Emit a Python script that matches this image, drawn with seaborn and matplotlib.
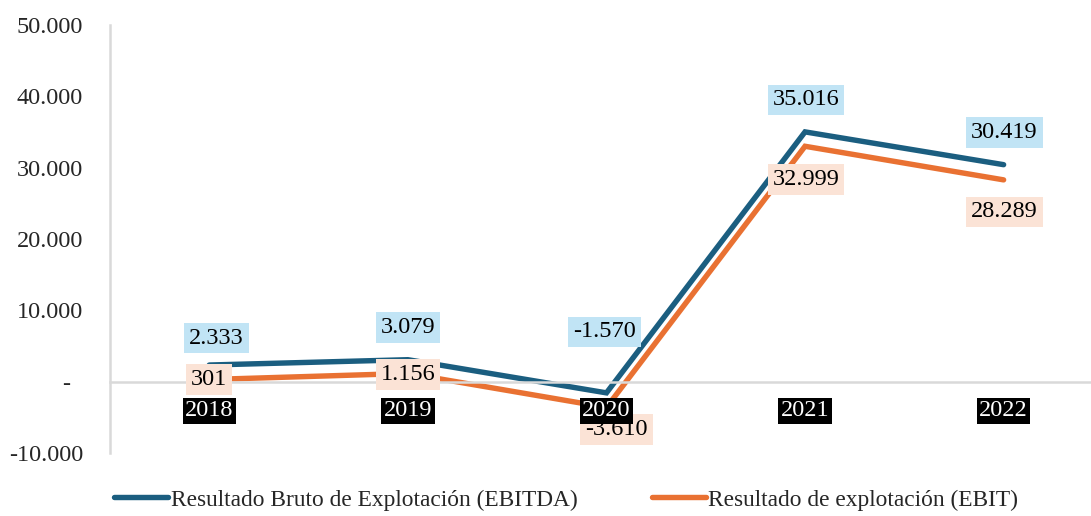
import pandas as pd
import seaborn as sns
import matplotlib.pyplot as plt


YEARS = ['2018', '2019', '2020', '2021', '2022']
EBITDA = [2333, 3079, -1570, 35016, 30419]
EBIT = [301, 1156, -3610, 32999, 28289]

EBITDA_NAME = 'Resultado Bruto de Explotación (EBITDA)'
EBIT_NAME = 'Resultado de explotación (EBIT)'

# label offsets in pixels (dx, dy) relative to each point
EBITDA_OFFS = [(7, 27), (0, 32), (-2, 61), (1, 32), (1, 32)]
EBIT_OFFS = [(0, 0), (0, -1), (10, -22), (1, -33), (1, -32)]

BLUE = '#1b5e80'
ORANGE = '#e97132'
BLUE_BOX = '#c1e4f5'
ORANGE_BOX = '#fbe3d6'
GRID_GRAY = '#d9d9d9'
FSIZE = 17.5


def fmt_num(val):
    return '{:,.0f}'.format(val).replace(',', '.')


def main():
    sns.set_theme(style='white')
    plt.rcParams['font.family'] = ['Liberation Serif', 'DejaVu Serif']
    plt.rcParams['font.size'] = FSIZE

    df = pd.DataFrame({
        'year': YEARS * 2,
        'value': EBITDA + EBIT,
        'serie': [EBITDA_NAME] * len(YEARS) + [EBIT_NAME] * len(YEARS)})

    fig = plt.figure(figsize=(10.91, 5.16), dpi=100)
    ax = fig.add_axes([110 / 1091, 1 - 453 / 516, 1 - 110 / 1091,
                       (453 - 25) / 516])
    sns.lineplot(data=df, x='year', y='value', hue='serie', sort=False,
                 palette=[BLUE, ORANGE], linewidth=3.9, ax=ax, legend=False)
    for line in ax.get_lines():
        line.set_solid_capstyle('round')
        line.set_solid_joinstyle('miter')

    ax.set_xlim(-0.5, 4.44)
    ax.set_ylim(-10000, 50000)
    ax.set_yticks(range(-10000, 50001, 10000))
    ax.set_yticklabels([fmt_num(v) if v != 0 else '-  '
                        for v in range(-10000, 50001, 10000)])
    ax.tick_params(axis='y', length=0, pad=19.5, labelsize=FSIZE)
    ax.set_xticks(range(len(YEARS)))
    ax.set_xticklabels([])
    ax.tick_params(axis='x', length=0)
    ax.set_xlabel('')
    ax.set_ylabel('')

    # year labels sit just under the zero line, white on black
    for i, year in enumerate(YEARS):
        ax.annotate(year, (i, 0), xytext=(0, -29),
                    textcoords='offset pixels', ha='center', va='center',
                    fontsize=FSIZE, color='white', zorder=6,
                    bbox=dict(facecolor='black', edgecolor='none',
                              boxstyle='square,pad=0.1'))

    for side in ('top', 'right'):
        ax.spines[side].set_visible(False)
    ax.spines['bottom'].set_position(('data', 0))
    ax.spines['bottom'].set_color(GRID_GRAY)
    ax.spines['bottom'].set_linewidth(1.8)
    ax.spines['left'].set_color(GRID_GRAY)
    ax.spines['left'].set_linewidth(1.8)

    for vals, offs, box in ((EBITDA, EBITDA_OFFS, BLUE_BOX),
                            (EBIT, EBIT_OFFS, ORANGE_BOX)):
        for i, (val, off) in enumerate(zip(vals, offs)):
            ax.annotate(fmt_num(val), (i, val), xytext=off,
                        textcoords='offset pixels', ha='center', va='center',
                        fontsize=FSIZE, color='black', zorder=5,
                        bbox=dict(facecolor=box, edgecolor='none',
                                  boxstyle='square,pad=0.2'))

    handles = [plt.Line2D([], [], color=BLUE, linewidth=3.9,
                          solid_capstyle='round'),
               plt.Line2D([], [], color=ORANGE, linewidth=3.9,
                          solid_capstyle='round')]
    fig.legend(handles, [EBITDA_NAME, EBIT_NAME], loc='center',
               bbox_to_anchor=(0.519, 1 - 500 / 516), ncol=2, frameon=False,
               fontsize=16.8, handlelength=2.3, handletextpad=0.12,
               columnspacing=3.2)

    fig.savefig('out.png', dpi=100)
    plt.close(fig)


if __name__ == '__main__':
    main()
